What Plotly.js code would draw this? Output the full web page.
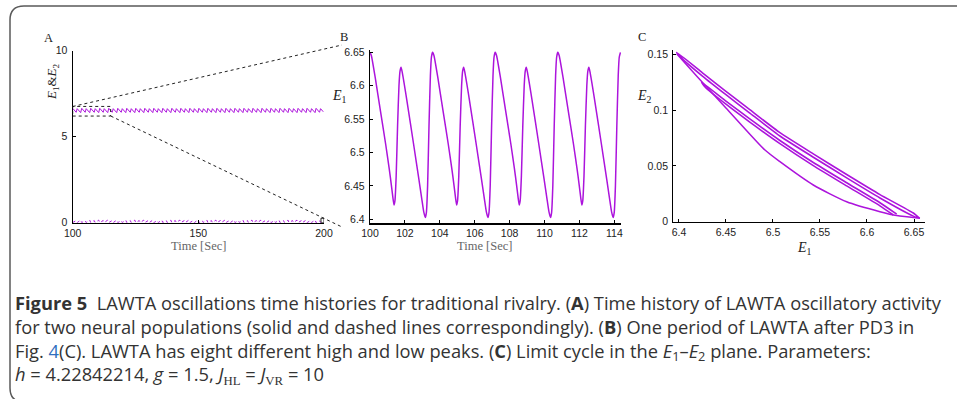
<!DOCTYPE html>
<html>
<head>
<meta charset="utf-8">
<script src="https://cdn.plot.ly/plotly-3.0.1.min.js"></script>
<style>
html,body{margin:0;padding:0;background:#fff;}
#chart{width:957px;height:399px;}
</style>
</head>
<body>
<div id="chart"></div>
<script>
// ---------- Panel A: extremes of E1 and E2 over 100..200 s ----------
var tA = [
100.00,101.38,101.78,103.17, 103.59,104.96,105.37,106.76, 107.17,108.55,108.95,110.34,
110.76,112.14,112.54,113.93, 114.35,115.72,116.13,117.52, 117.94,119.31,119.72,121.11,
121.52,122.90,123.30,124.69, 125.11,126.48,126.89,128.28, 128.70,130.07,130.48,131.87,
132.28,133.66,134.06,135.45, 135.87,137.25,137.65,139.04, 139.46,140.83,141.24,142.63,
143.04,144.42,144.82,146.21, 146.63,148.01,148.41,149.80, 150.22,151.59,152.00,153.39,
153.81,155.18,155.59,156.98, 157.39,158.77,159.17,160.56, 160.98,162.35,162.76,164.15,
164.57,165.94,166.35,167.74, 168.15,169.53,169.93,171.32, 171.74,173.12,173.52,174.91,
175.33,176.70,177.11,178.50, 178.91,180.29,180.69,182.08, 182.50,183.88,184.28,185.67,
186.09,187.46,187.87,189.26, 189.68,191.05,191.46,192.85, 193.26,194.64,195.04,196.43,
196.85,198.22,198.63,199.70];
var E1A = [
6.65,6.42,6.63,6.40, 6.65,6.42,6.63,6.40, 6.65,6.42,6.63,6.40, 6.65,6.42,6.63,6.40,
6.65,6.42,6.63,6.40, 6.65,6.42,6.63,6.40, 6.65,6.42,6.63,6.40, 6.65,6.42,6.63,6.40,
6.65,6.42,6.63,6.40, 6.65,6.42,6.63,6.40, 6.65,6.42,6.63,6.40, 6.65,6.42,6.63,6.40,
6.65,6.42,6.63,6.40, 6.65,6.42,6.63,6.40, 6.65,6.42,6.63,6.40, 6.65,6.42,6.63,6.40,
6.65,6.42,6.63,6.40, 6.65,6.42,6.63,6.40, 6.65,6.42,6.63,6.40, 6.65,6.42,6.63,6.40,
6.65,6.42,6.63,6.40, 6.65,6.42,6.63,6.40, 6.65,6.42,6.63,6.40, 6.65,6.42,6.63,6.40,
6.65,6.42,6.63,6.40, 6.65,6.42,6.63,6.40, 6.65,6.42,6.63,6.40, 6.65,6.42,6.63,6.45];
var E2A = [
0.003,0.125,0.006,0.152, 0.003,0.125,0.006,0.152, 0.003,0.125,0.006,0.152, 0.003,0.125,0.006,0.152,
0.003,0.125,0.006,0.152, 0.003,0.125,0.006,0.152, 0.003,0.125,0.006,0.152, 0.003,0.125,0.006,0.152,
0.003,0.125,0.006,0.152, 0.003,0.125,0.006,0.152, 0.003,0.125,0.006,0.152, 0.003,0.125,0.006,0.152,
0.003,0.125,0.006,0.152, 0.003,0.125,0.006,0.152, 0.003,0.125,0.006,0.152, 0.003,0.125,0.006,0.152,
0.003,0.125,0.006,0.152, 0.003,0.125,0.006,0.152, 0.003,0.125,0.006,0.152, 0.003,0.125,0.006,0.152,
0.003,0.125,0.006,0.152, 0.003,0.125,0.006,0.152, 0.003,0.125,0.006,0.152, 0.003,0.125,0.006,0.152,
0.003,0.125,0.006,0.152, 0.003,0.125,0.006,0.152, 0.003,0.125,0.006,0.152, 0.003,0.125,0.006,0.080];

// ---------- Panel B: one period of E1 (100..114.35 s) ----------
var tB = [
100.000,100.080,100.300,100.600,100.900,101.100,101.220,101.300,101.375,101.430,101.500,101.580,101.660,101.720,101.780,101.840,102.100,102.500,102.800,102.980,103.080,103.170,103.230,103.300,103.380,103.460,103.520,
103.587,103.667,103.887,104.187,104.487,104.687,104.807,104.887,104.962,105.017,105.087,105.167,105.247,105.307,105.367,105.427,105.687,106.087,106.387,106.567,106.667,106.757,106.817,106.887,106.967,107.047,107.107,
107.174,107.254,107.474,107.774,108.074,108.274,108.394,108.474,108.549,108.604,108.674,108.754,108.834,108.894,108.954,109.014,109.274,109.674,109.974,110.154,110.254,110.344,110.404,110.474,110.554,110.634,110.694,
110.761,110.841,111.061,111.361,111.661,111.861,111.981,112.061,112.136,112.191,112.261,112.341,112.421,112.481,112.541,112.601,112.861,113.261,113.561,113.741,113.841,113.931,113.991,114.061,114.141,114.221,114.281,
114.348];
var E1B = [
6.650,6.645,6.612,6.562,6.512,6.476,6.452,6.435,6.4215,6.428,6.465,6.540,6.600,6.622,6.6275,6.621,6.580,6.512,6.460,6.428,6.411,6.4025,6.410,6.450,6.540,6.615,6.643,
6.650,6.645,6.612,6.562,6.512,6.476,6.452,6.435,6.4215,6.428,6.465,6.540,6.600,6.622,6.6275,6.621,6.580,6.512,6.460,6.428,6.411,6.4025,6.410,6.450,6.540,6.615,6.643,
6.650,6.645,6.612,6.562,6.512,6.476,6.452,6.435,6.4215,6.428,6.465,6.540,6.600,6.622,6.6275,6.621,6.580,6.512,6.460,6.428,6.411,6.4025,6.410,6.450,6.540,6.615,6.643,
6.650,6.645,6.612,6.562,6.512,6.476,6.452,6.435,6.4215,6.428,6.465,6.540,6.600,6.622,6.6275,6.621,6.580,6.512,6.460,6.428,6.411,6.4025,6.410,6.450,6.540,6.615,6.643,
6.650];

// ---------- Panel C: limit cycle in the E1-E2 plane ----------
var upperE1 = [6.656,6.6493,6.6138,6.5784,6.5429,6.5074,6.475,6.450,6.425,6.3976, 6.401,6.425,6.450,6.475,6.5074,6.5429,6.5784,6.6138,6.6493,6.654];
var upperE2 = [0.0030,0.0078,0.0243,0.0423,0.0608,0.0798,0.1006,0.1168,0.1335,0.1518, 0.1480,0.1305,0.1138,0.0976,0.0768,0.0578,0.0393,0.0213,0.0050,0.0035];
var middleE1 = [6.6316,6.6138,6.5784,6.5429,6.5074,6.475,6.450,6.4241, 6.428,6.450,6.475,6.5074,6.5429,6.5784,6.6138,6.628];
var middleE2 = [0.0068,0.0170,0.0349,0.0531,0.0728,0.0923,0.1081,0.1249, 0.1205,0.1053,0.0895,0.0700,0.0503,0.0321,0.0142,0.0060];
var lowerE1 = [6.3976,6.420,6.450,6.4915,6.5074,6.5429,6.5784,6.6138,6.6316,6.6564];
var lowerE2 = [0.1505,0.1295,0.1020,0.0642,0.0538,0.0329,0.0179,0.0090,0.0055,0.0030];

// tick values
var ticksAx = [100,150,200], ticksAy = [0,5,10];
var ticksBx = [100,102,104,106,108,110,112,114], ticksBy = [6.4,6.45,6.5,6.55,6.6,6.65];
var ticksCx = [6.4,6.45,6.5,6.55,6.6,6.65], ticksCy = [0,0.05,0.1,0.15];

// caption lines
var captionLines = [
 '<b>Figure 5</b>\u00a0\u00a0LAWTA oscillations time histories for traditional rivalry. (<b>A</b>) Time history of LAWTA oscillatory activity',
 'for two neural populations (solid and dashed lines correspondingly). (<b>B</b>) One period of LAWTA after PD3 in',
 'Fig. <span style="color:#2f6fc0">4</span>(C). LAWTA has eight different high and low peaks. (<b>C</b>) Limit cycle in the <i>E</i><sub>1</sub>–<i>E</i><sub>2</sub> plane. Parameters:',
 '<i>h</i>\u00a0=\u00a04.22842214, <i>g</i>\u00a0=\u00a01.5, <i>J</i><span style="font-family:Liberation Serif"><sub>HL</sub></span>\u00a0=\u00a0<i>J</i><span style="font-family:Liberation Serif"><sub>VR</sub></span>\u00a0=\u00a010'
];

var COL = 'rgb(172,20,220)';
var W = 957, H = 399;
function px(x){return x/W;}
function py(y){return 1 - y/H;}

var traces = [
 {x:tA, y:E1A, xaxis:'x', yaxis:'y', mode:'lines', line:{color:COL, width:1}, hoverinfo:'skip'},
 {x:tA, y:E2A, xaxis:'x', yaxis:'y', mode:'lines', line:{color:COL, width:1, dash:'dot'}, hoverinfo:'skip'},
 {x:tB, y:E1B, xaxis:'x2', yaxis:'y2', mode:'lines', line:{color:COL, width:1.5, shape:'spline', smoothing:0.5}, hoverinfo:'skip'},
 {x:upperE1, y:upperE2, xaxis:'x3', yaxis:'y3', mode:'lines', line:{color:COL, width:1.6, shape:'spline', smoothing:0.5}, hoverinfo:'skip'},
 {x:middleE1, y:middleE2, xaxis:'x3', yaxis:'y3', mode:'lines', line:{color:COL, width:1.6, shape:'spline', smoothing:0.5}, hoverinfo:'skip'},
 {x:lowerE1, y:lowerE2, xaxis:'x3', yaxis:'y3', mode:'lines', line:{color:COL, width:1.5, shape:'spline', smoothing:0.6}, hoverinfo:'skip'}
];

var tickFont = {family:'Liberation Sans, Arial, sans-serif', size:10.5, color:'#222'};
function ax(domain, range, tickvals, standoff){
  return {domain:domain, range:range, tickvals:tickvals, ticks:'inside', ticklen:3, tickwidth:1,
    tickcolor:'#000', showline:true, linecolor:'#000', linewidth:1.2, showgrid:false, zeroline:false,
    tickfont:tickFont, ticklabelstandoff:standoff, fixedrange:true};
}

var xa = ax([px(72.7), px(324)], [100,200], ticksAx, 0); xa.anchor='y';
var ya = ax([py(222.7), py(50.7)], [0,10], ticksAy, 2); ya.anchor='x';
var xb = ax([px(370), px(621)], [100,114.38], ticksBx, 0); xb.anchor='y2';
var yb = ax([py(223.3), py(50)], [6.394,6.6535], ticksBy, 2); yb.anchor='x2';
var xc = ax([px(673.3), px(925)], [6.394,6.6617], ticksCx, 0); xc.anchor='y3';
var yc = ax([py(221.7), py(50)], [0,0.1539], ticksCy, 2); yc.anchor='x3';

var serif = 'Liberation Serif, Times New Roman, serif';
var capFont = 'Open Sans, Noto Sans, sans-serif';
function ann(text, x, y, opts){
  var a = {text:text, x:px(x), y:py(y), xref:'paper', yref:'paper', showarrow:false,
    xanchor:'center', yanchor:'middle', font:{family:serif, size:12.5, color:'#222'}};
  for (var k in opts) a[k] = opts[k];
  return a;
}

var annotations = [
 ann('A', 48, 38, {}),
 ann('B', 344, 37, {}),
 ann('C', 642, 37, {}),
 ann('<i>E</i><sub>1</sub>&<i>E</i><sub>2</sub>', 52, 82, {textangle:-90, font:{family:serif, size:13, color:'#222'}}),
 ann('Time [Sec]', 198, 246, {font:{family:serif, size:12.5, color:'#666'}}),
 ann('Time [Sec]', 484, 246, {font:{family:serif, size:12.5, color:'#666'}}),
 ann('<i>E</i><sub>1</sub>', 339, 96, {font:{family:serif, size:14, color:'#222'}}),
 ann('<i>E</i><sub>2</sub>', 644, 97, {font:{family:serif, size:14, color:'#222'}}),
 ann('<i>E</i><sub>1</sub>', 804, 248, {font:{family:serif, size:14, color:'#222'}}),
 ann(captionLines.join('<br>'), 13, 339, {xanchor:'left', align:'left', font:{family:capFont, size:18.3, color:'#333'}})
];

var dashLine = {color:'#222', width:1, dash:'3px,3px'};
var shapes = [
 // outer rounded frame
 {type:'path', xref:'paper', yref:'paper', layer:'above',
  path:'M 1.05,'+py(6)+' L '+px(24)+','+py(6)+' Q '+px(10)+','+py(6)+' '+px(10)+','+py(20)+
       ' L '+px(10)+','+py(388)+' Q '+px(10)+','+py(402)+' '+px(24)+','+py(402)+' L 1.05,'+py(402),
  line:{color:'#5a5a5a', width:1.5}},
 // zoom boxes in panel A
 {type:'rect', xref:'x', yref:'y', x0:100, x1:115.1, y0:6.2, y1:6.76, line:dashLine},
 {type:'rect', xref:'x', yref:'y', x0:198.8, x1:200, y0:0, y1:0.26, line:{color:'#222', width:1}},
 // connector lines to panel B
 {type:'line', xref:'paper', yref:'paper', x0:px(72.7), y0:py(106.5), x1:px(342), y1:py(45), line:dashLine},
 {type:'line', xref:'paper', yref:'paper', x0:px(110.7), y0:py(116), x1:px(342), y1:py(227), line:dashLine}
];

var layout = {
  width:W, height:H, margin:{l:0,r:0,t:0,b:0}, paper_bgcolor:'#fff', plot_bgcolor:'rgba(0,0,0,0)',
  showlegend:false, hovermode:false,
  xaxis:xa, yaxis:ya, xaxis2:xb, yaxis2:yb, xaxis3:xc, yaxis3:yc,
  annotations:annotations, shapes:shapes
};
Plotly.newPlot('chart', traces, layout, {staticPlot:true, displayModeBar:false});
</script>
</body>
</html>
